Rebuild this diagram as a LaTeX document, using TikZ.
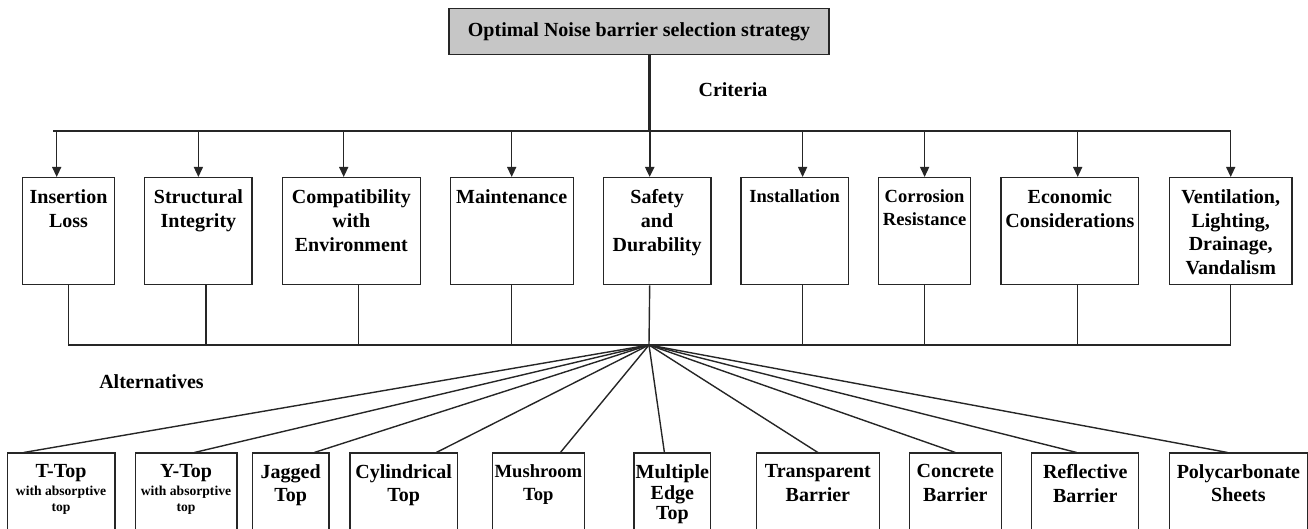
\documentclass[tikz,border=0pt]{standalone}
\usepackage{fontspec}
\setmainfont{Liberation Serif}
\usepackage{xcolor}
\usetikzlibrary{arrows.meta}

\newcommand{\boxtext}[3]{\parbox[c][#2][t]{#1}{\centering #3}}

\tikzset{
  critbox/.style = {draw = black!85, line width = 0.7pt, anchor = north west, inner xsep = 0pt, inner ysep = 6pt, font = \bfseries},
  altbox/.style = {critbox, inner ysep = 5.6pt},
  link/.style = {draw = black!85, line width = 0.7pt},
  down/.style = {link, -{Triangle[length = 5pt, width = 4.5pt]}}
}

\begin{document}
\begin{tikzpicture}[x = 0.5pt, y = -0.5pt]
\useasboundingbox (0,0) rectangle (1308,529);

\node[draw = black!85, line width = 0.7pt, fill = gray!45, minimum width = 190pt, minimum height = 23pt, font = \bfseries] (S) at (639,31.3) {Optimal Noise barrier selection strategy};

\node[font = \bfseries] (crit) at (733,90) {Criteria};
\node[font = \bfseries] (alts) at (151.5,382) {Alternatives};

\node[critbox] (C1) at (22,177) {\boxtext{45.8pt}{41.5pt}{Insertion\\Loss}};
\node[critbox] (C2) at (144,177) {\boxtext{53.7pt}{41.5pt}{Structural\\Integrity}};
\node[critbox] (C3) at (281.6,177) {\boxtext{69pt}{41.5pt}{Compatibility\\with\\Environment}};
\node[critbox] (C4) at (449.5,177) {\boxtext{61.5pt}{41.5pt}{Maintenance}};
\node[critbox] (C5) at (602.7,177) {\boxtext{53.7pt}{41.5pt}{Safety\\and\\Durability}};
\node[critbox] (C6) at (740.2,177) {\boxtext{53.7pt}{41.5pt}{\fontsize{9.25}{11.3}\selectfont Installation}};
\node[critbox] (C7) at (877.9,177) {\boxtext{46pt}{41.5pt}{\fontsize{9.25}{11.3}\selectfont Corrosion\\Resistance}};
\node[critbox] (C8) at (1000.4,177) {\boxtext{68.8pt}{41.5pt}{Economic\\Considerations}};
\node[critbox] (C9) at (1168.7,177) {\boxtext{61.3pt}{41.5pt}{\fontsize{10}{11.85}\selectfont Ventilation,\\Lighting,\\Drainage,\\Vandalism}};

\node[altbox] (A1) at (6.7,452.5) {\boxtext{53.7pt}{40pt}{T-Top\par\vspace{1pt}\fontsize{6.8}{8}\selectfont with absorptive\\top}};
\node[altbox] (A2) at (134.5,452.5) {\boxtext{50.8pt}{40pt}{Y-Top\par\vspace{1pt}\fontsize{6.8}{8}\selectfont with absorptive\\top}};
\node[altbox] (A3) at (251.7,452.5) {\boxtext{38.3pt}{40pt}{\fontsize{10}{11.4}\selectfont Jagged\\Top}};
\node[altbox] (A4) at (349.3,452.5) {\boxtext{53.7pt}{40pt}{\fontsize{10}{11.4}\selectfont Cylindrical\\Top}};
\node[altbox] (A5) at (491.6,452.5) {\boxtext{46.1pt}{40pt}{\fontsize{9.3}{11.4}\selectfont Mushroom\\Top}};
\node[altbox] (A6) at (633.4,452.5) {\boxtext{38.3pt}{40pt}{\fontsize{10}{10.4}\selectfont Multiple\\Edge\\Top}};
\node[altbox] (A7) at (755.7,452.5) {\boxtext{61.5pt}{40pt}{\fontsize{10}{11.8}\selectfont Transparent\\Barrier}};
\node[altbox] (A8) at (908.9,452.5) {\boxtext{45.8pt}{40pt}{\fontsize{10}{11.8}\selectfont Concrete\\Barrier}};
\node[altbox] (A9) at (1031,452.5) {\boxtext{53.5pt}{40pt}{\fontsize{10}{11.8}\selectfont Reflective\\Barrier}};
\node[altbox] (A10) at (1168.7,452.5) {\boxtext{69pt}{40pt}{\fontsize{10}{11.8}\selectfont Polycarbonate\\Sheets}};

\coordinate (B) at (53,131);
\coordinate (H) at (649,345);

\draw[link, line width = 1.5pt] ([xshift = 5pt]S.south) -- ([xshift = 5pt]S.south |- B);
\draw[link] (B) -- (C9.north |- B);

\draw[down] ([xshift = -5.9pt]C1.north |- B) -- ([xshift = -5.9pt]C1.north);
\draw[down] (C2.north |- B) -- (C2.north);
\draw[down] ([xshift = -3.8pt]C3.north |- B) -- ([xshift = -3.8pt]C3.north);
\draw[down] (C4.north |- B) -- (C4.north);
\draw[down, line width = 1pt] ([xshift = -3.7pt]C5.north |- B) -- ([xshift = -3.7pt]C5.north);
\draw[down] ([xshift = 4pt]C6.north |- B) -- ([xshift = 4pt]C6.north);
\draw[down] (C7.north |- B) -- (C7.north);
\draw[down] ([xshift = 3.9pt]C8.north |- B) -- ([xshift = 3.9pt]C8.north);
\draw[down] (C9.north |- B) -- (C9.north);

\draw[link] (C1.south) -- (C1.south |- H) -- (C9.south |- H) -- (C9.south);
\draw[link] ([xshift = 3.7pt]C2.south) -- ([xshift = 3.7pt]C2.south |- H);
\draw[link] ([xshift = 3.7pt]C3.south) -- ([xshift = 3.7pt]C3.south |- H);
\draw[link] (C4.south) -- (C4.south |- H);
\draw[link] ([xshift = -3.7pt]C5.south) -- (H);
\draw[link] ([xshift = 4pt]C6.south) -- ([xshift = 4pt]C6.south |- H);
\draw[link] (C7.south) -- (C7.south |- H);
\draw[link] ([xshift = 3.9pt]C8.south) -- ([xshift = 3.9pt]C8.south |- H);

\draw[link] (H) -- ([xshift = -18.7pt]A1.north);
\draw[link] (H) -- ([xshift = 4.2pt]A2.north);
\draw[link] (H) -- ([xshift = 11.8pt]A3.north);
\draw[link] (H) -- ([xshift = 16.3pt]A4.north);
\draw[link] (H) -- ([xshift = 11pt]A5.north);
\draw[link] (H) -- ([xshift = -4pt]A6.north);
\draw[link] (H) -- (A7.north);
\draw[link] (H) -- (A8.north);
\draw[link] (H) -- ([xshift = -4.2pt]A9.north);
\draw[link] (H) -- ([xshift = -5.4pt]A10.north);

\end{tikzpicture}
\end{document}
